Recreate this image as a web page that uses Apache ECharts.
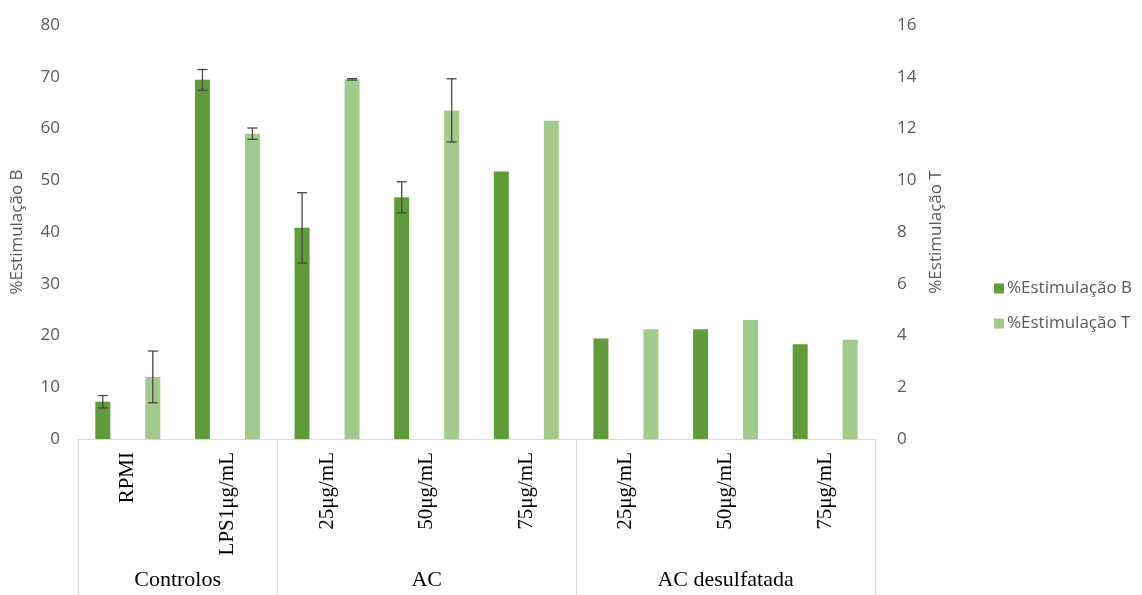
<!DOCTYPE html>
<html>
<head>
<meta charset="utf-8">
<script src="https://cdn.jsdelivr.net/npm/echarts@6/dist/echarts.min.js"></script>
<style>
  html, body { margin: 0; padding: 0; background: #fff; }
  #chart { width: 1142px; height: 595px; }
</style>
</head>
<body>
<div id="chart"></div>
<script>
// Sample labels (bottom row) and the groups they belong to
const categories = ['RPMI', 'LPS1μg/mL', '25μg/mL', '50μg/mL', '75μg/mL', '25μg/mL', '50μg/mL', '75μg/mL'];
const groupNames = ['Controlos', 'AC', 'AC desulfatada'];
const groupSizes = [2, 3, 3];

// % stimulation of B cells (left axis) and T cells (right axis)
const seriesNames = ['%Estimulação B', '%Estimulação T'];
const stimB = [7.2, 69.4, 40.8, 46.7, 51.7, 19.4, 21.2, 18.3];
const stimT = [2.4, 11.8, 13.9, 12.7, 12.3, 4.24, 4.6, 3.84];
// Error bar half-lengths (null = no error bar)
const errB = [1.2, 2.0, 6.8, 3.0, null, null, null, null];
const errT = [1.0, 0.22, 0.03, 1.22, null, null, null, null];

// Axis ranges
const leftTicks = { min: 0, max: 80, interval: 10 };
const rightTicks = { min: 0, max: 16, interval: 2 };

const COLOR_B = '#619c3b';
const COLOR_T = '#a3c98c';
const BAR_W = 15;
const BAR_GAP = 35;
const BAR_OFFSET = (BAR_W + BAR_GAP) / 2;

// group boundaries and centres in category units
const groupEdges = [0];
groupSizes.forEach(function (s) { groupEdges.push(groupEdges[groupEdges.length - 1] + s); });
const groupCenters = groupNames.map(function (_, i) { return (groupEdges[i] + groupEdges[i + 1]) / 2; });

function errorBarSeries(values, errs, yAxisIndex, offset) {
  return {
    type: 'custom',
    name: 'err' + yAxisIndex,
    xAxisIndex: 0,
    yAxisIndex: yAxisIndex,
    silent: true,
    z: 5,
    data: values.map(function (v, i) { return [i, v, errs[i] == null ? 0 : errs[i], errs[i] == null ? 0 : 1]; }),
    encode: { x: 0, y: 1 },
    renderItem: function (params, api) {
      if (!api.value(3)) return null;
      const idx = api.value(0), val = api.value(1), e = api.value(2);
      const x = api.coord([idx, val])[0] + offset;
      const yTop = api.coord([idx, val + e])[1];
      const yBot = api.coord([idx, val - e])[1];
      const cap = 5;
      const style = { stroke: '#474747', lineWidth: 1.3 };
      return {
        type: 'group',
        children: [
          { type: 'line', shape: { x1: x, y1: yTop, x2: x, y2: yBot }, style: style },
          { type: 'line', shape: { x1: x - cap, y1: yTop, x2: x + cap, y2: yTop }, style: style },
          { type: 'line', shape: { x1: x - cap, y1: yBot, x2: x + cap, y2: yBot }, style: style }
        ]
      };
    }
  };
}

const chart = echarts.init(document.getElementById('chart'), null, { renderer: 'canvas' });

const tickFont = { color: '#595959', fontSize: 17, fontFamily: '"Open Sans", sans-serif' };

chart.setOption({
  animation: false,
  backgroundColor: '#ffffff',
  grid: { left: 78, right: 267, top: 25, bottom: 156, containLabel: false, outerBoundsMode: 'none' },
  legend: {
    data: seriesNames,
    orient: 'vertical',
    left: 989,
    top: 275,
    icon: 'rect',
    itemWidth: 10,
    itemHeight: 10,
    itemGap: 18,
    textStyle: { color: '#595959', fontSize: 17, fontFamily: '"Open Sans", sans-serif', padding: [0, 0, 0, -2] }
  },
  xAxis: [
    {
      type: 'category',
      position: 'bottom',
      data: categories,
      axisLine: { show: true, lineStyle: { color: '#d9d9d9', width: 1 } },
      axisTick: { show: false },
      axisLabel: {
        interval: 0,
        rotate: 90,
        margin: 13,
        color: '#000000',
        fontSize: 21,
        fontFamily: '"Liberation Serif", "Times New Roman", serif'
      },
      splitLine: { show: false }
    },
    {
      type: 'value',
      position: 'bottom',
      min: 0,
      max: categories.length,
      axisLine: { show: false },
      splitLine: { show: false },
      axisTick: {
        show: true,
        customValues: groupEdges,
        length: 156,
        lineStyle: { color: '#d9d9d9', width: 1 }
      },
      axisLabel: {
        customValues: groupCenters,
        margin: 130,
        color: '#000000',
        fontSize: 22,
        fontFamily: '"Liberation Serif", "Times New Roman", serif',
        formatter: function (v) {
          const i = groupCenters.indexOf(v);
          return i >= 0 ? groupNames[i] : '';
        }
      }
    }
  ],
  yAxis: [
    {
      type: 'value',
      position: 'left',
      min: leftTicks.min,
      max: leftTicks.max,
      interval: leftTicks.interval,
      name: seriesNames[0],
      nameLocation: 'middle',
      nameRotate: 90,
      nameGap: 52,
      nameTextStyle: tickFont,
      axisLine: { show: false },
      axisTick: { show: false },
      splitLine: { show: false },
      axisLabel: Object.assign({ margin: 18 }, tickFont)
    },
    {
      type: 'value',
      position: 'right',
      min: rightTicks.min,
      max: rightTicks.max,
      interval: rightTicks.interval,
      name: seriesNames[1],
      nameLocation: 'middle',
      nameRotate: 90,
      nameGap: 52,
      nameTextStyle: tickFont,
      axisLine: { show: false },
      axisTick: { show: false },
      splitLine: { show: false },
      axisLabel: Object.assign({ margin: 22 }, tickFont)
    }
  ],
  series: [
    {
      name: seriesNames[0],
      type: 'bar',
      xAxisIndex: 0,
      yAxisIndex: 0,
      data: stimB,
      barWidth: BAR_W,
      barGap: (BAR_GAP / BAR_W * 100) + '%',
      itemStyle: { color: COLOR_B }
    },
    {
      name: seriesNames[1],
      type: 'bar',
      xAxisIndex: 0,
      yAxisIndex: 1,
      data: stimT,
      barWidth: BAR_W,
      barGap: (BAR_GAP / BAR_W * 100) + '%',
      itemStyle: { color: COLOR_T }
    },
    errorBarSeries(stimB, errB, 0, -BAR_OFFSET),
    errorBarSeries(stimT, errT, 1, BAR_OFFSET)
  ]
});
</script>
</body>
</html>
